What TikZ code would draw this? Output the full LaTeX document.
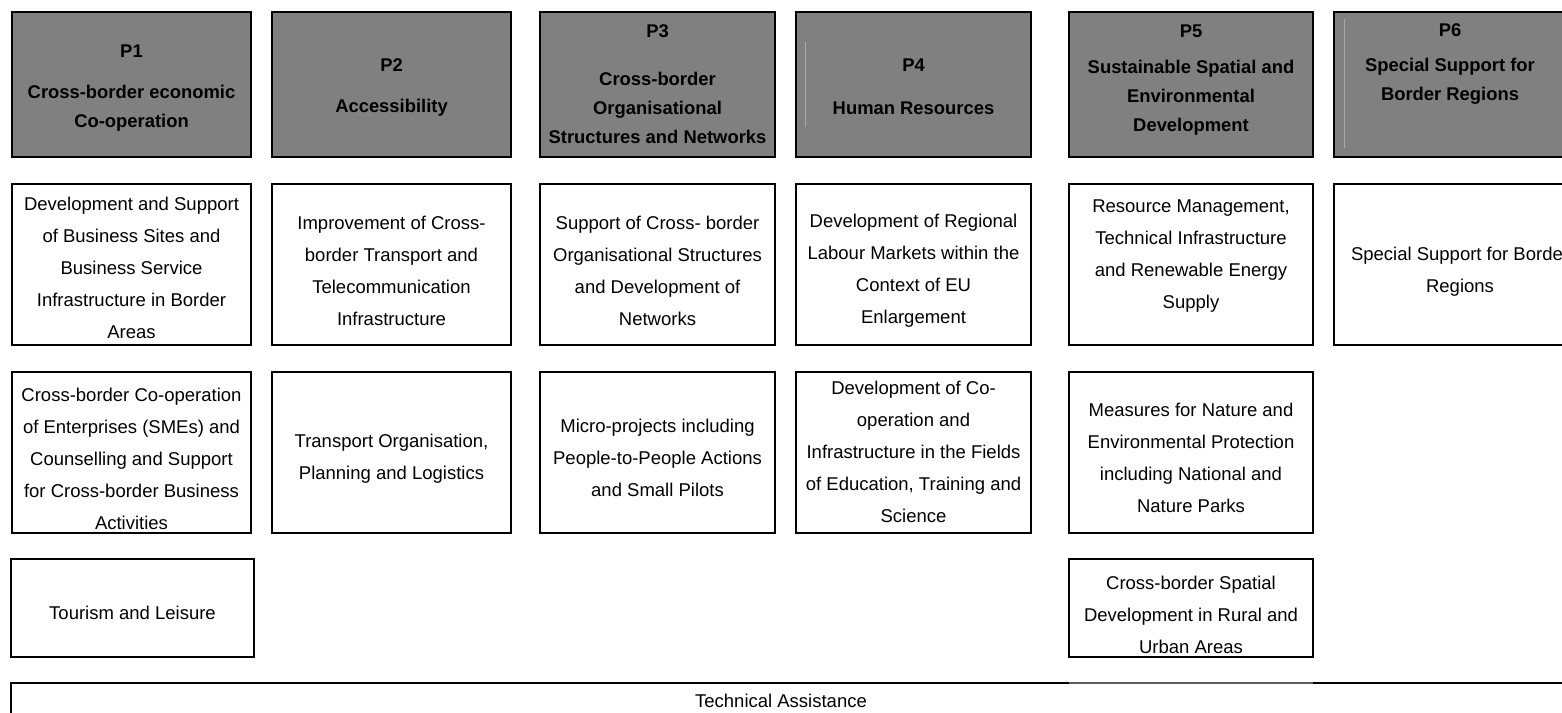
\documentclass[tikz,border=0pt]{standalone}
\usepackage{fontspec}
\setmainfont{Liberation Sans}
\definecolor{hdrgray}{HTML}{808080}
\definecolor{faint}{HTML}{A8A8A8}
\definecolor{segray}{HTML}{5C5C5C}
\begin{document}
\begin{tikzpicture}[x=1pt,y=-1pt,
  hbox/.style={draw=black, line width=2.7pt, fill=hdrgray, inner sep=0pt, outer sep=0pt},
  bbox/.style={draw=black, line width=2.7pt, fill=white, inner sep=0pt, outer sep=0pt},
  htext/.style={align=center, font=\fontsize{18.4}{29}\selectfont\bfseries, inner sep=0pt},
  btext/.style={align=center, font=\fontsize{18.5}{32}\selectfont, inner sep=0pt},
  artline/.style={draw=faint, line width=0.8pt}
]
\clip (0,0) rectangle (1562,712);
\fill[white] (0,0) rectangle (1562,712);

% ---------- header row ----------
\node[hbox, minimum width=239pt, minimum height=145pt] (p1) at (131.5,84.5) {};
\node[hbox, minimum width=239pt, minimum height=145pt] (p2) at (391.5,84.5) {};
\node[hbox, minimum width=235pt, minimum height=145pt] (p3) at (657.5,84.5) {};
\node[hbox, minimum width=235pt, minimum height=145pt] (p4) at (913.5,84.5) {};
\node[hbox, minimum width=244pt, minimum height=145pt] (p5) at (1191,84.5) {};
\node[hbox, minimum width=252pt, minimum height=145pt] (p6) at (1460,84.5) {};
\draw[artline] (805,42) -- (805,127);
\draw[artline] (1344,19) -- (1344,148);

\node[htext] (p1t) at (131.5,88) {P1\\[12pt]Cross-border economic\\Co-operation};
\node[htext] (p2t) at (391.5,87.5) {P2\\[12pt]Accessibility};
\node[htext] (p3t) at (657.5,84.5) {P3\\[19pt]Cross-border\\Organisational\\Structures and Networks};
\node[htext] (p4t) at (913.5,86.5) {P4\\[14pt]Human Resources};
\node[htext] (p5t) at (1191,80) {P5\\[7pt]Sustainable Spatial and\\Environmental\\Development};
\node[htext] (p6t) at (1450,64.5) {P6\\[6pt]Special Support for\\Border Regions};

% ---------- row 2 ----------
\node[bbox, minimum width=239pt, minimum height=161pt] (a1) at (131.5,264.5) {};
\node[bbox, minimum width=239pt, minimum height=161pt] (a2) at (391.5,264.5) {};
\node[bbox, minimum width=235pt, minimum height=161pt] (a3) at (657.5,264.5) {};
\node[bbox, minimum width=235pt, minimum height=161pt] (a4) at (913.5,264.5) {};
\node[bbox, minimum width=244pt, minimum height=161pt] (a5) at (1191,264.5) {};
\node[bbox, minimum width=252pt, minimum height=161pt] (a6) at (1460,264.5) {};

\node[btext] (a1t) at (131.5,268) {Development and Support\\of Business Sites and\\Business Service\\Infrastructure in Border\\Areas};
\node[btext] (a2t) at (391.5,270.5) {Improvement of Cross-\\border Transport and\\Telecommunication\\Infrastructure};
\node[btext] (a3t) at (657.5,271) {Support of Cross- border\\Organisational Structures\\and Development of\\Networks};
\node[btext] (a4t) at (913.5,271) {Development of Regional\\Labour Markets within the\\Context of EU\\Enlargement};
\node[btext] (a5t) at (1191,256) {Resource Management,\\Technical Infrastructure\\and Renewable Energy\\Supply};
\node[btext] (a6t) at (1460,272) {Special Support for Border\\Regions};

% ---------- row 3 ----------
\node[bbox, minimum width=239pt, minimum height=161pt] (b1) at (131.5,452.5) {};
\node[bbox, minimum width=239pt, minimum height=161pt] (b2) at (391.5,452.5) {};
\node[bbox, minimum width=235pt, minimum height=161pt] (b3) at (657.5,452.5) {};
\node[bbox, minimum width=235pt, minimum height=161pt] (b4) at (913.5,452.5) {};
\node[bbox, minimum width=244pt, minimum height=161pt] (b5) at (1191,452.5) {};

\node[btext] (b1t) at (131.5,459) {Cross-border Co-operation\\of Enterprises (SMEs) and\\Counselling and Support\\for Cross-border Business\\Activities};
\node[btext] (b2t) at (391.5,459) {Transport Organisation,\\Planning and Logistics};
\node[btext] (b3t) at (657.5,458) {Micro-projects including\\People-to-People Actions\\and Small Pilots};
\node[btext] (b4t) at (913.5,452) {Development of Co-\\operation and\\Infrastructure in the Fields\\of Education, Training and\\Science};
\node[btext] (b5t) at (1191,458) {Measures for Nature and\\Environmental Protection\\including National and\\Nature Parks};

% ---------- row 4 ----------
\node[bbox, minimum width=243pt, minimum height=98pt] (c1) at (132.5,608) {};
\node[bbox, minimum width=244pt, minimum height=98pt] (c5) at (1191,608) {};
\node[btext] (c1t) at (132.5,613) {Tourism and Leisure};
\node[btext] (c5t) at (1191,615) {Cross-border Spatial\\Development in Rural and\\Urban Areas};

% ---------- technical assistance ----------
\node[bbox, minimum width=1560pt, minimum height=60pt] (ta) at (791,713) {};
\draw[segray, line width=2.7pt] (c5.south west |- ta.north) -- (c5.south east |- ta.north);
\node[btext] (tat) at (781,701) {Technical Assistance};
\end{tikzpicture}
\end{document}
